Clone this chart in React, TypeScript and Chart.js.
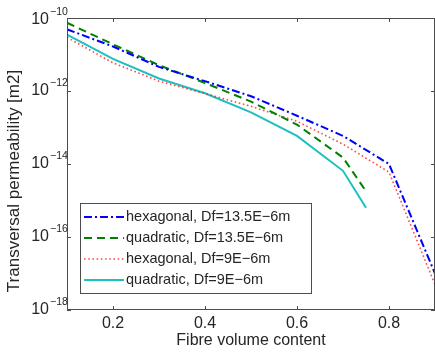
import React, { useEffect, useRef } from 'react';
import { Chart, registerables } from 'chart.js';

Chart.register(...registerables);

// ---- data ----
const xHexagonal = [0.1, 0.2, 0.3, 0.4, 0.5, 0.6, 0.7, 0.8, 0.9];
const xQuadratic = [0.1, 0.2, 0.3, 0.4, 0.5, 0.6, 0.7, 0.75];
const hexagonal135 = [4.9e-11, 1.66e-11, 4.57e-12, 1.86e-12, 7.2e-13, 2.1e-13, 5.9e-14, 1.0e-14, 1.0e-17];
const quadratic135 = [7.4e-11, 1.9e-11, 5.1e-12, 1.66e-12, 5.1e-13, 1.2e-13, 1.5e-14, 1.8e-15];
const hexagonal9 = [2.95e-11, 5.9e-12, 1.86e-12, 8.5e-13, 3.8e-13, 1.48e-13, 3.5e-14, 6.0e-15, 5.0e-18];
const quadratic9 = [3.5e-11, 7.6e-12, 2.2e-12, 8.7e-13, 2.6e-13, 5.9e-14, 6.5e-15, 6.3e-16];
const seriesLabels = [
  'hexagonal, Df=13.5E\u22126m',
  'quadratic, Df=13.5E\u22126m',
  'hexagonal, Df=9E\u22126m',
  'quadratic, Df=9E\u22126m',
];
const xTicks = [0.2, 0.4, 0.6, 0.8];
const xTickLabels = ['0.2', '0.4', '0.6', '0.8'];
const yTicks = [1e-10, 1e-12, 1e-14, 1e-16, 1e-18];
const yTickExponents = ['\u221210', '\u221212', '\u221214', '\u221216', '\u221218'];
const xTitle = 'Fibre volume content';
const yTitle = 'Transversal permeability [m2]';

const FONT = '"Liberation Sans", Arial, Helvetica, sans-serif';
const TEXT = '#262626';
const AXIS = '#4d4d4d';

const styles = [
  { color: '#0000ff', width: 2, dash: [8, 3, 2, 3] },
  { color: '#008000', width: 2, dash: [8, 5] },
  { color: 'rgba(255,30,30,0.8)', width: 1.6, dash: [1.6, 2.6] },
  { color: '#1cc0c0', width: 2, dash: [] as number[] },
];

const toPoints = (xs: number[], ys: number[]) => xs.map((x, i) => ({ x, y: ys[i] }));

const axesPlugin = {
  id: 'matlabAxes',
  afterDatasetsDraw(chart: any) {
    const { ctx, chartArea: a } = chart;
    const xs = chart.scales.x;
    const ys = chart.scales.y;
    ctx.save();
    ctx.strokeStyle = AXIS;
    ctx.lineWidth = 1;
    ctx.setLineDash([]);
    ctx.strokeRect(a.left + 0.5, a.top + 0.5, a.right - a.left - 1, a.bottom - a.top - 1);
    ctx.beginPath();
    xTicks.forEach((v) => {
      const px = Math.round(xs.getPixelForValue(v)) + 0.5;
      ctx.moveTo(px, a.bottom);
      ctx.lineTo(px, a.bottom - 4);
      ctx.moveTo(px, a.top);
      ctx.lineTo(px, a.top + 4);
    });
    yTicks.forEach((v) => {
      const py = Math.round(ys.getPixelForValue(v)) + 0.5;
      ctx.moveTo(a.left, py);
      ctx.lineTo(a.left + 4, py);
      ctx.moveTo(a.right, py);
      ctx.lineTo(a.right - 4, py);
    });
    ctx.stroke();

    ctx.fillStyle = TEXT;
    ctx.font = `16px ${FONT}`;
    ctx.textAlign = 'center';
    ctx.textBaseline = 'middle';
    xTicks.forEach((v, i) => {
      ctx.fillText(xTickLabels[i], xs.getPixelForValue(v), a.bottom + 14);
    });
    yTicks.forEach((v, i) => {
      const py = ys.getPixelForValue(v);
      const base = i === 0 ? py + 2 : py;
      ctx.font = `16px ${FONT}`;
      ctx.textAlign = 'right';
      ctx.fillText('10', a.left - 18, base);
      ctx.font = `10.5px ${FONT}`;
      ctx.textAlign = 'left';
      ctx.fillText(yTickExponents[i], a.left - 17, base - 8);
    });

    ctx.font = `16px ${FONT}`;
    ctx.textAlign = 'center';
    ctx.fillText(xTitle, (a.left + a.right) / 2, a.bottom + 31);
    ctx.save();
    ctx.translate(14, 181);
    ctx.rotate(-Math.PI / 2);
    ctx.font = `17px ${FONT}`;
    ctx.fillText(yTitle, 0, 0);
    ctx.restore();
    ctx.restore();
  },
  afterDraw(chart: any) {
    const { ctx } = chart;
    ctx.save();
    const left = 80.5, top = 203.5, right = 311.5, bottom = 293.5;
    ctx.fillStyle = '#ffffff';
    ctx.fillRect(left, top, right - left, bottom - top);
    ctx.strokeStyle = AXIS;
    ctx.lineWidth = 1;
    ctx.setLineDash([]);
    ctx.strokeRect(left, top, right - left, bottom - top);
    seriesLabels.forEach((label, i) => {
      const y = 217 + i * 21;
      const s = styles[i];
      ctx.beginPath();
      ctx.strokeStyle = s.color;
      ctx.lineWidth = s.width;
      ctx.setLineDash(s.dash);
      ctx.moveTo(84, y);
      ctx.lineTo(124, y);
      ctx.stroke();
      ctx.setLineDash([]);
      ctx.fillStyle = TEXT;
      ctx.font = `14.5px ${FONT}`;
      ctx.textAlign = 'left';
      ctx.textBaseline = 'middle';
      ctx.fillText(label, 126, y);
    });
    ctx.restore();
  },
};

export default function App() {
  const ref = useRef<HTMLCanvasElement | null>(null);
  useEffect(() => {
    if (!ref.current) return;
    const seriesData = [
      toPoints(xHexagonal, hexagonal135),
      toPoints(xQuadratic, quadratic135),
      toPoints(xHexagonal, hexagonal9),
      toPoints(xQuadratic, quadratic9),
    ];
    const chart = new Chart(ref.current, {
      type: 'line',
      data: {
        datasets: seriesData.map((d, i) => ({
          label: seriesLabels[i],
          data: d,
          borderColor: styles[i].color,
          borderWidth: styles[i].width,
          borderDash: styles[i].dash,
          pointRadius: 0,
          fill: false,
          tension: 0,
        })),
      },
      options: {
        animation: false,
        responsive: false,
        maintainAspectRatio: false,
        layout: { padding: { left: 67, top: 18, right: 0, bottom: 42 } },
        plugins: { legend: { display: false }, tooltip: { enabled: false }, title: { display: false } },
        scales: {
          x: { type: 'linear', min: 0.1, max: 0.9, display: false },
          y: { type: 'logarithmic', min: 1e-18, max: 1e-10, display: false },
        },
      },
      plugins: [axesPlugin],
    } as any);
    return () => chart.destroy();
  }, []);
  return (
    <div style={{ position: 'absolute', left: 0, top: 0, width: 435, height: 352, background: '#fff' }}>
      <canvas ref={ref} width={435} height={352} style={{ display: 'block', width: 435, height: 352 }} />
    </div>
  );
}
